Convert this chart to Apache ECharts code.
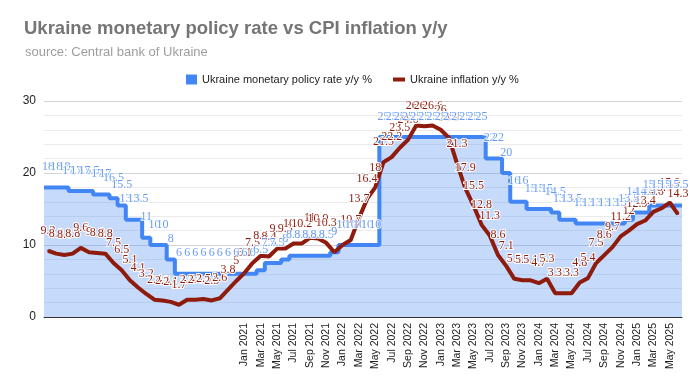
<!DOCTYPE html>
<html>
<head>
<meta charset="utf-8">
<script src="https://cdn.jsdelivr.net/npm/echarts@6/dist/echarts.min.js"></script>
<style>html,body{margin:0;padding:0;background:#fff;}#c{width:699px;height:392px;}</style>
</head>
<body>
<div id="c"></div>
<script>
const monthNames = ['Jan','Feb','Mar','Apr','May','Jun','Jul','Aug','Sep','Oct','Nov','Dec'];
const years = [2019, 2020, 2021, 2022, 2023, 2024, 2025];
const lastMonthCount = 6; // data runs to Jun 2025

const rateName = 'Ukraine monetary policy rate y/y %';
const inflName = 'Ukraine inflation y/y %';

const policyRate = [
  18, 18, 18, 17.5, 17.5, 17.5, 17, 17, 16.5, 15.5, 13.5, 13.5,
  11, 10, 10, 8, 6, 6, 6, 6, 6, 6, 6, 6,
  6, 6, 6.5, 7.5, 7.5, 8, 8.5, 8.5, 8.5, 8.5, 8.5, 9,
  10, 10, 10, 10, 10, 25, 25, 25, 25, 25, 25, 25,
  25, 25, 25, 25, 25, 25, 22, 22, 20, 16, 16, 15,
  15, 15, 14.5, 13.5, 13.5, 13, 13, 13, 13, 13, 13, 13.5,
  14.5, 14.5, 15.5, 15.5, 15.5, 15.5
];

const inflation = [
  9.2, 8.8, 8.6, 8.8, 9.6, 9.0, 8.9, 8.8, 7.5, 6.5, 5.1, 4.1,
  3.2, 2.4, 2.3, 2.1, 1.7, 2.4, 2.4, 2.5, 2.3, 2.6, 3.8, 5.0,
  6.1, 7.5, 8.5, 8.4, 9.5, 9.5, 10.2, 10.2, 11.0, 10.9, 10.3, 9.0,
  10.0, 10.7, 13.7, 16.4, 18.0, 21.5, 22.2, 23.5, 24.6, 26.6, 26.5, 26.6,
  26.0, 24.9, 21.3, 17.9, 15.5, 12.8, 11.3, 8.6, 7.1, 5.3, 5.1, 5.1,
  4.7, 5.3, 3.3, 3.3, 3.3, 4.8, 5.4, 7.5, 8.6, 9.7, 11.2, 12.0,
  12.9, 13.4, 14.6, 15.1, 15.9, 14.3
];

const categories = [];
years.forEach(function (y, yi) {
  const n = (yi === years.length - 1) ? lastMonthCount : 12;
  for (let m = 0; m < n; m++) categories.push(monthNames[m] + ' ' + y);
});
const firstLabelIndex = categories.indexOf('Jan 2021');

const rateSteps = policyRate.map(function (v, i) { return [i, v]; });
rateSteps.push([policyRate.length, policyRate[policyRate.length - 1]]);

const blue = '#4285f4';
const red = '#8e1b0c';
const sans = 'Liberation Sans, Arial, sans-serif';
const serif = 'Liberation Serif, Times New Roman, serif';

const chart = echarts.init(document.getElementById('c'), null, {renderer: 'canvas'});
chart.setOption({
  animation: false,
  backgroundColor: '#fff',
  title: [
    {text: 'Ukraine monetary policy rate vs CPI inflation y/y', left: 19, top: 14,
     textStyle: {fontFamily: sans, fontSize: 18.5, fontWeight: 'bold', color: '#757575'}},
    {text: 'source: Central bank of Ukraine', left: 20, top: 41,
     textStyle: {fontFamily: sans, fontSize: 13, fontWeight: 'normal', color: '#9e9e9e'}}
  ],
  legend: [
    {data: [rateName], left: 181, top: 69, itemWidth: 11, itemHeight: 10, icon: 'rect', itemGap: 0,
     textStyle: {fontFamily: sans, fontSize: 11, color: '#222', padding: [0, 0, 0, 0]}},
    {data: [inflName], left: 388, top: 69, itemWidth: 12, itemHeight: 4, icon: 'rect',
     textStyle: {fontFamily: sans, fontSize: 11, color: '#222', padding: [0, 0, 0, 0]}}
  ],
  grid: {left: 44, right: 17, top: 101, bottom: 75, containLabel: false},
  xAxis: [
    {type: 'category', data: categories, boundaryGap: true,
     axisLine: {lineStyle: {color: '#333', width: 1}},
     axisTick: {show: false},
     axisLabel: {rotate: 90, fontFamily: sans, fontSize: 10.5, color: '#222', margin: 6,
       interval: function (i) { return i >= firstLabelIndex && (i - firstLabelIndex) % 2 === 0; }},
     splitLine: {show: false}},
    {type: 'value', min: 0, max: policyRate.length, show: false}
  ],
  yAxis: {type: 'value', min: 0, max: 30, interval: 10,
    axisLine: {show: false}, axisTick: {show: false},
    axisLabel: {fontFamily: sans, fontSize: 12, color: '#222', margin: 8},
    splitLine: {lineStyle: {color: '#d4d4d4'}},
    minorTick: {show: false, splitNumber: 5},
    minorSplitLine: {show: true, lineStyle: {color: '#ebebeb'}}
  },
  series: [
    {name: rateName, type: 'line', xAxisIndex: 1, data: rateSteps, step: 'end',
     symbol: 'none', itemStyle: {color: blue},
     lineStyle: {color: blue, width: 4},
     areaStyle: {color: blue, opacity: 0.3}, z: 2},
    {name: 'rateLabels', type: 'scatter', xAxisIndex: 0, data: policyRate,
     symbolSize: 1, itemStyle: {color: blue}, z: 5,
     label: {show: true, position: 'top', distance: 14, color: blue, fontFamily: serif,
       fontSize: 12, textBorderColor: '#fff', textBorderWidth: 2}},
    {name: inflName, type: 'line', xAxisIndex: 0, data: inflation,
     symbol: 'circle', symbolSize: 2, showAllSymbol: true,
     itemStyle: {color: red}, lineStyle: {color: red, width: 4}, z: 4,
     label: {show: true, position: 'top', distance: 13, color: red, fontFamily: serif,
       fontSize: 12, textBorderColor: '#fff', textBorderWidth: 2}}
  ]
});
</script>
</body>
</html>
